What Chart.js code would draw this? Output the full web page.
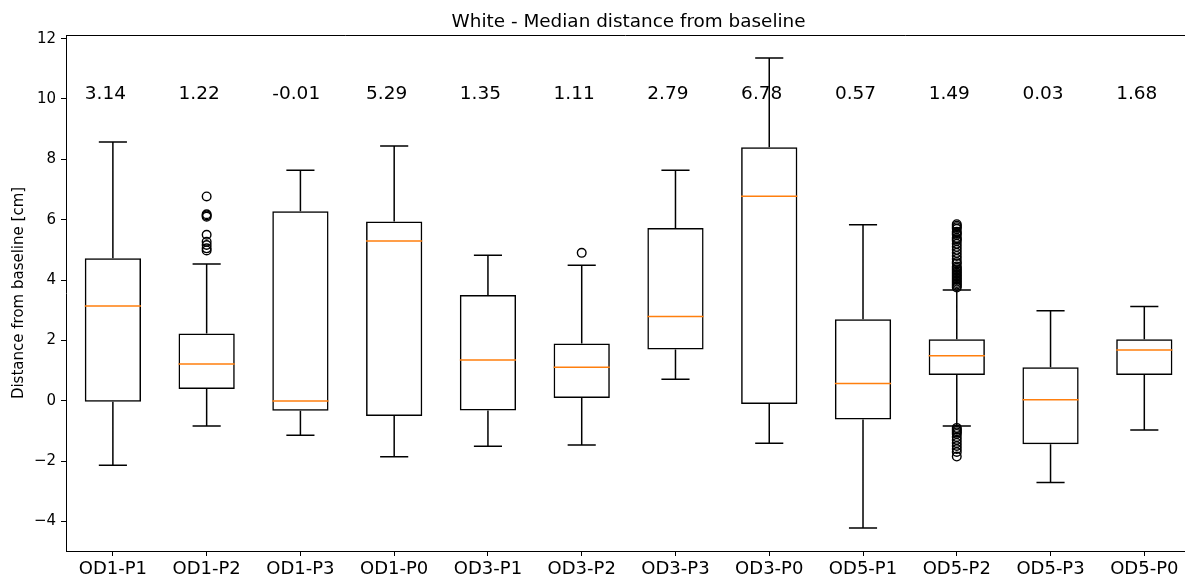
<!DOCTYPE html>
<html>
<head>
<meta charset="utf-8">
<script src="https://cdn.jsdelivr.net/npm/chart.js@4.4.1/dist/chart.umd.min.js"></script>
<style>
html, body { margin: 0; padding: 0; background: #fff; overflow: hidden; }
canvas { display: block; }
</style>
</head>
<body>
<canvas id="myChart" width="1185" height="585"></canvas>
<script>
// box plot numbers
const categories = ['OD1-P1', 'OD1-P2', 'OD1-P3', 'OD1-P0', 'OD3-P1', 'OD3-P2', 'OD3-P3', 'OD3-P0', 'OD5-P1', 'OD5-P2', 'OD5-P3', 'OD5-P0'];
const medians = [3.14, 1.22, -0.01, 5.29, 1.35, 1.11, 2.79, 6.78, 0.57, 1.49, 0.03, 1.68];
const q1 = [-0.03, 0.39, -0.33, -0.51, -0.32, 0.09, 1.70, -0.11, -0.62, 0.85, -1.44, 0.85];
const q3 = [4.72, 2.23, 6.28, 5.94, 3.50, 1.90, 5.72, 8.40, 2.70, 2.04, 1.11, 2.04];
const whiskerLow = [-2.14, -0.84, -1.14, -1.86, -1.51, -1.47, 0.71, -1.41, -4.22, -0.84, -2.71, -0.97];
const whiskerHigh = [8.57, 4.53, 7.64, 8.44, 4.82, 4.49, 7.64, 11.36, 5.83, 3.67, 2.98, 3.12];
const outliers = [
  [],
  [4.98, 5.05, 5.16, 5.27, 5.50, 6.10, 6.14, 6.18, 6.77],
  [],
  [],
  [],
  [4.90],
  [],
  [],
  [],
  [3.75, 3.80, 3.85, 3.90, 3.95, 4.00, 4.05, 4.10, 4.15, 4.20, 4.25, 4.30, 4.35, 4.40, 4.45, 4.55, 4.60, 4.70, 4.80, 4.90, 5.00, 5.10, 5.20, 5.30, 5.35, 5.40, 5.50, 5.55, 5.60, 5.70, 5.75, 5.80, 5.85,
   -0.90, -0.95, -1.00, -1.05, -1.10, -1.20, -1.30, -1.40, -1.50, -1.60, -1.70, -1.85],
  [],
  []
];
const yTicks = [-4, -2, 0, 2, 4, 6, 8, 10, 12];

const boxWidth = 0.6;
const capHalf = boxWidth / 4;
const font = 'DejaVu Sans';

// build the pieces for the library
const boxData = categories.map((c, i) => ({ x: i + 1, y: [q1[i], q3[i]] }));

// vertical pieces go from the lower value up, so each one is stroked once
const whiskerData = [];
categories.forEach((c, i) => {
  const x = i + 1;
  whiskerData.push({ x: x, y: q3[i] }, { x: x, y: whiskerHigh[i] }, { x: x, y: null });
  whiskerData.push({ x: x, y: whiskerLow[i] }, { x: x, y: q1[i] }, { x: x, y: null });
  whiskerData.push({ x: x - capHalf, y: whiskerHigh[i] }, { x: x + capHalf, y: whiskerHigh[i] }, { x: x, y: null });
  whiskerData.push({ x: x - capHalf, y: whiskerLow[i] }, { x: x + capHalf, y: whiskerLow[i] }, { x: x, y: null });
});

const medianData = [];
categories.forEach((c, i) => {
  const x = i + 1;
  medianData.push({ x: x - boxWidth / 2, y: medians[i] }, { x: x + boxWidth / 2, y: medians[i] }, { x: x, y: null });
});

const outlierData = [];
outliers.forEach((list, i) => {
  list.forEach(v => outlierData.push({ x: i + 1, y: v }));
});

// title, y label, median labels, top spine
const extrasPlugin = {
  id: 'extras',
  afterDraw(chart) {
    const ctx = chart.ctx;
    const area = chart.chartArea;
    const xs = chart.scales.x;
    const ys = chart.scales.y;
    ctx.save();
    ctx.strokeStyle = '#000';
    ctx.lineWidth = 1;
    ctx.beginPath();
    ctx.moveTo(area.left, Math.round(area.top) + 0.5);
    ctx.lineTo(area.right, Math.round(area.top) + 0.5);
    ctx.stroke();

    ctx.fillStyle = '#000';
    ctx.font = '18.4px "' + font + '"';
    ctx.textAlign = 'center';
    ctx.textBaseline = 'alphabetic';
    ctx.fillText('White - Median distance from baseline', xs.getPixelForValue(6.5), area.top - 8.5);

    ctx.font = '18.5px "' + font + '"';
    ctx.textAlign = 'left';
    medians.forEach((m, i) => {
      ctx.fillText(m.toFixed(2), xs.getPixelForValue(i + 1 - 0.3), ys.getPixelForValue(10));
    });

    ctx.font = '15px "' + font + '"';
    ctx.textAlign = 'center';
    ctx.translate(23, (area.top + area.bottom) / 2);
    ctx.rotate(-Math.PI / 2);
    ctx.fillText('Distance from baseline [cm]', 0, 0);
    ctx.restore();
  }
};

const ctx = document.getElementById('myChart');

const myChart = new Chart(ctx, {
  type: 'bar',
  data: {
    datasets: [
      {
        type: 'bar',
        data: boxData,
        backgroundColor: 'rgba(255,255,255,0)',
        borderColor: '#000',
        borderWidth: 1.5,
        borderSkipped: false,
        barPercentage: boxWidth,
        categoryPercentage: 1,
        order: 3
      },
      {
        type: 'line',
        data: whiskerData,
        borderColor: '#000',
        borderWidth: 1.5,
        pointRadius: 0,
        spanGaps: false,
        fill: false,
        order: 2
      },
      {
        type: 'line',
        data: medianData,
        borderColor: '#ff7f0e',
        borderWidth: 1.5,
        pointRadius: 0,
        spanGaps: false,
        fill: false,
        order: 1
      },
      {
        type: 'scatter',
        data: outlierData,
        pointStyle: 'circle',
        pointRadius: 4.3,
        borderColor: '#000',
        borderWidth: 1.4,
        backgroundColor: 'rgba(255,255,255,0)',
        showLine: false,
        order: 0
      }
    ]
  },
  options: {
    responsive: false,
    animation: false,
    devicePixelRatio: 1,
    layout: { autoPadding: false, padding: { top: 35, right: 0, left: 0, bottom: 0 } },
    plugins: {
      legend: { display: false },
      tooltip: { enabled: false },
      title: { display: false }
    },
    scales: {
      x: {
        type: 'linear',
        offset: false,
        min: 0.5,
        max: 12.434,
        afterBuildTicks(scale) {
          scale.ticks = categories.map((c, i) => ({ value: i + 1 }));
        },
        afterFit(scale) {
          scale.height = 34;
          scale.paddingLeft = 0;
          scale.paddingRight = 0;
        },
        ticks: {
          autoSkip: false,
          maxRotation: 0,
          padding: 3,
          color: '#000',
          font: { family: font, size: 18 },
          callback: v => categories[v - 1]
        },
        grid: { offset: false, drawOnChartArea: false, drawTicks: true, tickLength: 5, tickColor: '#000' },
        border: { display: true, color: '#000', width: 1 }
      },
      y: {
        type: 'linear',
        min: -4.98,
        max: 12.12,
        afterBuildTicks(scale) {
          scale.ticks = yTicks.map(v => ({ value: v }));
        },
        afterFit(scale) {
          scale.width = 66;
          scale.paddingTop = 0;
          scale.paddingBottom = 0;
        },
        ticks: {
          padding: 5,
          color: '#000',
          font: { family: font, size: 15 },
          callback: v => (v < 0 ? '\u2212' + Math.abs(v) : String(v))
        },
        grid: { drawOnChartArea: false, drawTicks: true, tickLength: 5, tickColor: '#000' },
        border: { display: true, color: '#000', width: 1 }
      }
    }
  },
  plugins: [extrasPlugin]
});
</script>
</body>
</html>
